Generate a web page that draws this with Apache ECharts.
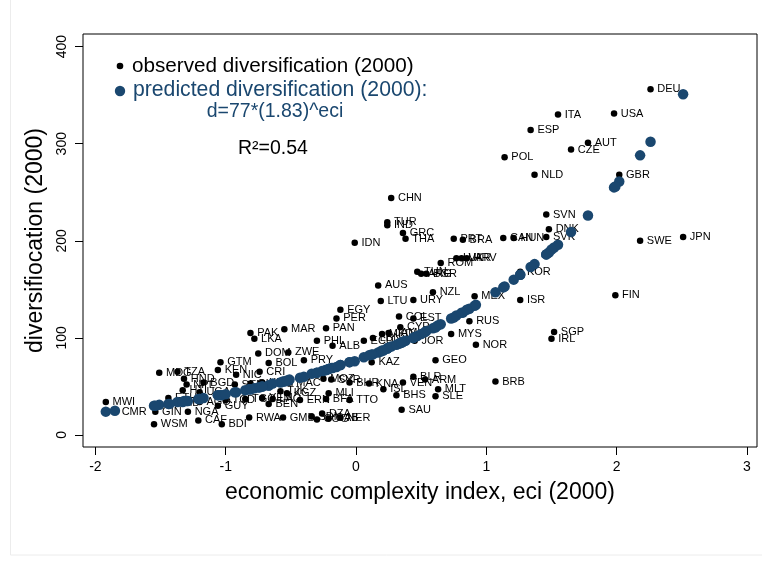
<!DOCTYPE html>
<html>
<head>
<meta charset="utf-8">
<script src="https://cdn.jsdelivr.net/npm/echarts@6/dist/echarts.min.js"></script>
<style>
  html, body { margin: 0; padding: 0; background: #ffffff; }
  #chart { width: 762px; height: 566px; }
</style>
</head>
<body>
<div id="chart"></div>
<script>
// Country codes, economic complexity (eci) and product diversification, year 2000
const countries = [
  'DEU','USA','ITA','ESP','AUT','CZE','POL','NLD','GBR','SVN','DNK','SVK','CAN','HUN','SWE','JPN','FIN','SGP','IRL','KOR',
  'ISR','MEX','RUS','NOR','MYS','BRB','CHN','TUR','IND','GRC','THA','IDN','PRT','BRA','ROM','LVA','UKR','HRV','TUN','ARG',
  'BGR','AUS','NZL','LTU','URY','EGY','PER','PAN','MAR','COL','EST','CYP','PHL','ALB','LBN','ECU','MKD','JAM','JOR','GEO',
  'KAZ','BLR','ARM','VEN','MLT','SLE','BHS','SAU','ISL','KNA','BHR','MOZ','SYR','MLI','BFA','TTO','DZA','GAB','NER','GMB',
  'SDN','COG','PAK','LKA','DOM','ZWE','BOL','PRY','GTM','KEN','CRI','TZA','MDG','HND','MWI','CMR','WSM','GIN','NGA','CAF',
  'BDI','GUY','RWA','BEN','TGO','TJK','ERN','NIC','NPL','HTI','BGD','SEN','GHA','KHM','UGA','ETH','ZMB','AGO','TCD','MAC',
  'YEM','LAO','KGZ'
];
const eci = [
  2.26, 1.98, 1.55, 1.34, 1.78, 1.65, 1.14, 1.37, 2.02, 1.46, 1.48, 1.46, 1.13, 1.21, 2.18, 2.51, 1.99, 1.52, 1.50, 1.26,
  1.26, 0.91, 0.87, 0.92, 0.73, 1.07, 0.27, 0.24, 0.24, 0.36, 0.38, -0.01, 0.75, 0.82, 0.65, 0.77, 0.81, 0.85, 0.47, 0.50,
  0.54, 0.17, 0.59, 0.19, 0.44, -0.12, -0.15, -0.23, -0.55, 0.33, 0.44, 0.34, -0.30, -0.18, 0.13, 0.06, 0.20, 0.25, 0.45, 0.61,
  0.12, 0.44, 0.53, 0.36, 0.63, 0.61, 0.31, 0.35, 0.21, 0.10, -0.05, -0.25, -0.19, -0.21, -0.23, -0.05, -0.26, -0.21, -0.12, -0.56,
  -0.34, -0.30, -0.81, -0.78, -0.75, -0.52, -0.67, -0.40, -1.04, -1.06, -0.74, -1.37, -1.51, -1.32, -1.92, -1.85, -1.55, -1.54, -1.29, -1.21,
  -1.03, -1.06, -0.82, -0.67, -0.85, -0.58, -0.43, -0.92, -1.30, -1.33, -1.17, -0.93, -0.81, -0.72, -1.20, -1.44, -1.43, -1.20, -1.00, -0.51,
  -0.72, -0.64, -0.53
];
const diversification = [
  356, 331, 330, 314, 301, 294, 286, 268, 268, 227, 212, 204, 203, 203, 200, 204, 144, 106, 99, 168,
  139, 143, 117, 93, 104, 55, 244, 219, 216, 208, 202, 198, 202, 201, 177, 182, 182, 182, 168, 166,
  166, 154, 147, 138, 139, 129, 120, 110, 109, 122, 120, 111, 97, 92, 100, 97, 104, 105, 97, 77,
  75, 60, 57, 54, 47, 40, 41, 26, 47, 53, 54, 58, 57, 43, 37, 36, 22, 17, 18, 18,
  19, 16, 105, 99, 84, 85, 74, 77, 75, 67, 65, 65, 64, 58, 34, 24, 11, 24, 24, 15,
  11, 30, 18, 32, 37, 45, 36, 62, 52, 46, 54, 52, 53, 54, 44, 38, 33, 34, 36, 54,
  38, 37, 43
];
// Fitted diversification, d = 77*(1.83)^eci, one value per country
const predicted = [
  302, 255, 196, 173, 226, 209, 153, 176, 261, 186, 188, 186, 152, 160, 288, 351, 256, 193, 191, 165,
  165, 133, 130, 134, 120, 147, 91, 89, 89, 96, 97, 76, 121, 126, 114, 123, 126, 129, 102, 104,
  107, 85, 110, 86, 100, 72, 70, 67, 55, 94, 100, 95, 64, 69, 83, 80, 87, 90, 101, 111,
  83, 100, 106, 96, 113, 111, 93, 95, 87, 82, 75, 66, 69, 68, 67, 75, 66, 68, 72, 55,
  63, 64, 47, 48, 49, 56, 51, 60, 41, 41, 49, 34, 31, 35, 24, 25, 30, 30, 35, 37,
  41, 41, 47, 51, 46, 54, 59, 44, 35, 34, 38, 44, 47, 50, 37, 32, 32, 37, 42, 57,
  50, 53, 56
];
const xTicks = [-2, -1, 0, 1, 2, 3];
const yTicks = [0, 100, 200, 300, 400];

const observedData = countries.map((c, i) => ({ name: c, value: [eci[i], diversification[i]] }));
const fittedData = countries.map((c, i) => ({ name: c, value: [eci[i], predicted[i]] }));

const FONT = '"Liberation Sans", Arial, sans-serif';
const NAVY = '#1a476f';

const chart = echarts.init(document.getElementById('chart'), null, { renderer: 'canvas' });
chart.setOption({
  animation: false,
  backgroundColor: '#ffffff',
  grid: {
    left: 83, top: 34, right: 5, bottom: 119,
    show: true, borderColor: '#000000', borderWidth: 1, backgroundColor: '#ffffff'
  },
  xAxis: {
    type: 'value', min: -2.095, max: 3.077,
    axisLine: { show: false, onZero: false },
    splitLine: { show: false },
    axisTick: { show: true, inside: false, length: 8, customValues: xTicks, lineStyle: { color: '#000000', width: 1 } },
    axisLabel: { customValues: xTicks, color: '#000000', fontSize: 14, fontFamily: FONT, margin: 13 },
    name: 'economic complexity index, eci (2000)',
    nameLocation: 'middle', nameGap: 34,
    nameTextStyle: { fontSize: 23, color: '#000000', fontFamily: FONT }
  },
  yAxis: {
    type: 'value', min: -12.4, max: 413,
    axisLine: { show: false, onZero: false },
    splitLine: { show: false },
    axisTick: { show: true, inside: false, length: 8, customValues: yTicks, lineStyle: { color: '#000000', width: 1 } },
    axisLabel: { customValues: yTicks, color: '#000000', fontSize: 14, fontFamily: FONT, margin: 14, rotate: 90 },
    name: 'diversifiocation (2000)',
    nameLocation: 'middle', nameGap: 36, nameRotate: 90,
    nameTextStyle: { fontSize: 23, color: '#000000', fontFamily: FONT }
  },
  series: [
    {
      name: 'observed diversification (2000)',
      type: 'scatter',
      z: 2,
      symbol: 'circle',
      symbolSize: 6.5,
      itemStyle: { color: '#000000', opacity: 1 },
      label: {
        show: true, position: 'right', distance: 3.5,
        formatter: p => p.name,
        color: '#000000', fontSize: 11, fontFamily: FONT
      },
      labelLayout: { hideOverlap: false },
      emphasis: { disabled: true },
      data: observedData
    },
    {
      name: 'predicted diversification (2000)',
      type: 'scatter',
      z: 3,
      symbol: 'circle',
      symbolSize: 10.5,
      itemStyle: { color: NAVY, opacity: 1 },
      emphasis: { disabled: true },
      data: fittedData
    }
  ],
  graphic: [
    // faint outer border of the graph region
    { type: 'rect', silent: true, shape: { x: 10.5, y: -2, width: 760, height: 557 },
      style: { fill: 'none', stroke: '#ececec', lineWidth: 1 } },
    // key
    { type: 'circle', shape: { cx: 120, cy: 66, r: 3.3 }, style: { fill: '#000000' } },
    { type: 'text', x: 132, y: 66, style: { text: 'observed diversification (2000)', fill: '#000000',
      font: '20.7px ' + FONT, textVerticalAlign: 'middle' } },
    { type: 'circle', shape: { cx: 120, cy: 91, r: 5.2 }, style: { fill: NAVY } },
    { type: 'text', x: 133, y: 90, style: { text: 'predicted diversification (2000):', fill: NAVY,
      font: '21.2px ' + FONT, textVerticalAlign: 'middle' } },
    { type: 'text', x: 275, y: 112, style: { text: 'd=77*(1.83)^eci', fill: NAVY,
      font: '19.5px ' + FONT, textAlign: 'center', textVerticalAlign: 'middle' } },
    { type: 'text', x: 273, y: 149, style: { text: 'R²=0.54', fill: '#000000',
      font: '19.5px ' + FONT, textAlign: 'center', textVerticalAlign: 'middle' } }
  ]
});
</script>
</body>
</html>
